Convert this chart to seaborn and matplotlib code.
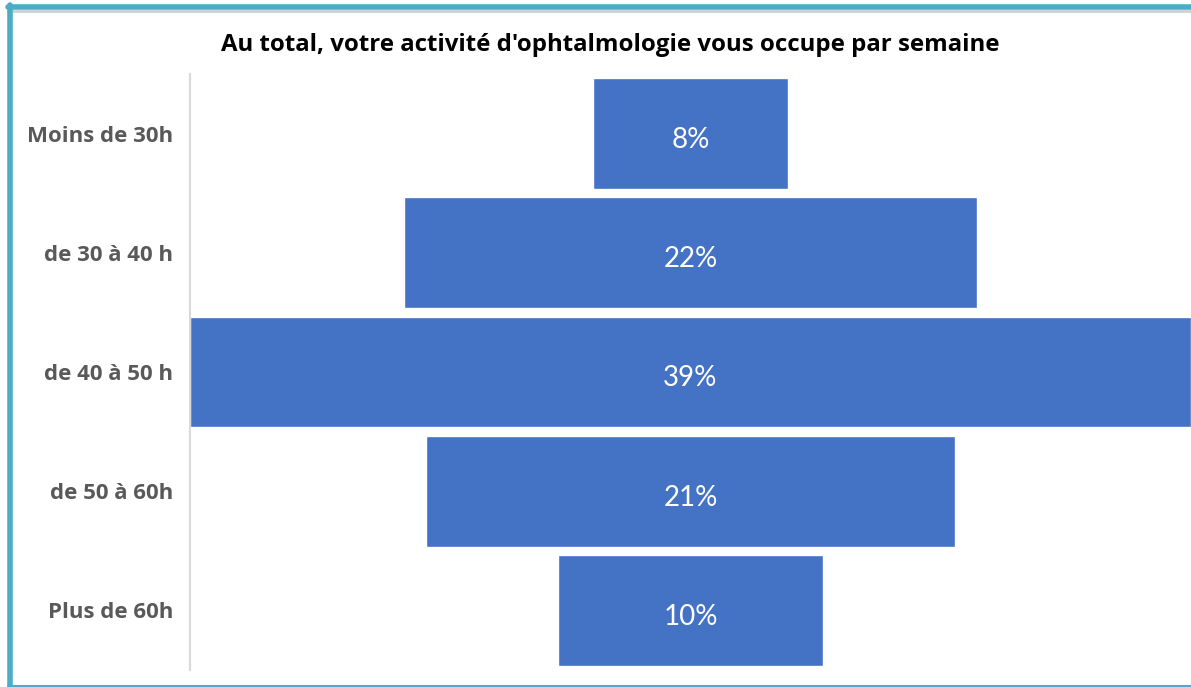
import seaborn as sns
import matplotlib
import matplotlib.pyplot as plt
import matplotlib.transforms as mtransforms
import pandas as pd
from matplotlib.lines import Line2D

categories = ["Moins de 30h", "de 30 à 40 h", "de 40 à 50 h", "de 50 à 60h", "Plus de 60h"]
shares = [7.6, 22.3, 39.0, 20.6, 10.3]
title = "Au total, votre activité d'ophtalmologie vous occupe par semaine"

BAR_COLOR = "#4472C4"
FRAME_COLOR = "#4BACC6"

df = pd.DataFrame({"category": categories, "share": shares})

sns.set_style("white")
plt.rcParams["font.family"] = ["Open Sans", "DejaVu Sans"]

fig = plt.figure(figsize=(11.91, 6.87), dpi=100)
ax = fig.add_axes([190 / 1191, 17 / 687, 1001 / 1191, 596 / 687])

sns.barplot(data=df, x="share", y="category", orient="h", color=BAR_COLOR,
            saturation=1, width=0.93, ax=ax)

# center every bar around zero -> funnel
for patch in ax.patches:
    w = patch.get_width()
    patch.set_x(-w / 2)

half = df["share"].max() / 2
ax.set_xlim(-half, half)
ax.set_ylim(len(categories) - 0.5, -0.5)

# labels sit a touch below the bar middle, like the original
label_trans = mtransforms.offset_copy(ax.transData, fig=fig, y=-4, units="dots")
for i, v in enumerate(df["share"]):
    ax.text(0, i, f"{round(v):.0f}%", ha="center", va="center_baseline",
            color="white", fontsize=20, family=["Lato", "DejaVu Sans"],
            transform=label_trans)

ax.set_xlabel("")
ax.set_ylabel("")
ax.set_xticks([])
ax.tick_params(axis="y", length=0, pad=12)
for lbl in ax.get_yticklabels():
    lbl.set_fontsize(16)
    lbl.set_fontweight("bold")
    lbl.set_color("#595959")

for side in ["top", "right", "bottom"]:
    ax.spines[side].set_visible(False)
ax.spines["left"].set_color("#D9D9D9")
ax.spines["left"].set_linewidth(1.5)

fig.text(610 / 1191, 1 - 45 / 687, title, ha="center", va="center",
         fontsize=17.3, fontweight="bold", color="black")

# frame around the chart area
fig.add_artist(Line2D([8 / 1191, 1], [1 - 11 / 687] * 2, color="#D0D0D0",
                      linewidth=2, transform=fig.transFigure))
fig.add_artist(Line2D([8 / 1191, 1], [1 - 7 / 687] * 2, color=FRAME_COLOR,
                      linewidth=4, transform=fig.transFigure))
fig.add_artist(Line2D([10 / 1191] * 2, [1 / 687, 1 - 5 / 687], color=FRAME_COLOR,
                      linewidth=4, transform=fig.transFigure))
fig.add_artist(Line2D([8 / 1191, 1], [1.5 / 687] * 2, color=FRAME_COLOR,
                      linewidth=1.5, transform=fig.transFigure))

fig.savefig("out.png", dpi=100)
